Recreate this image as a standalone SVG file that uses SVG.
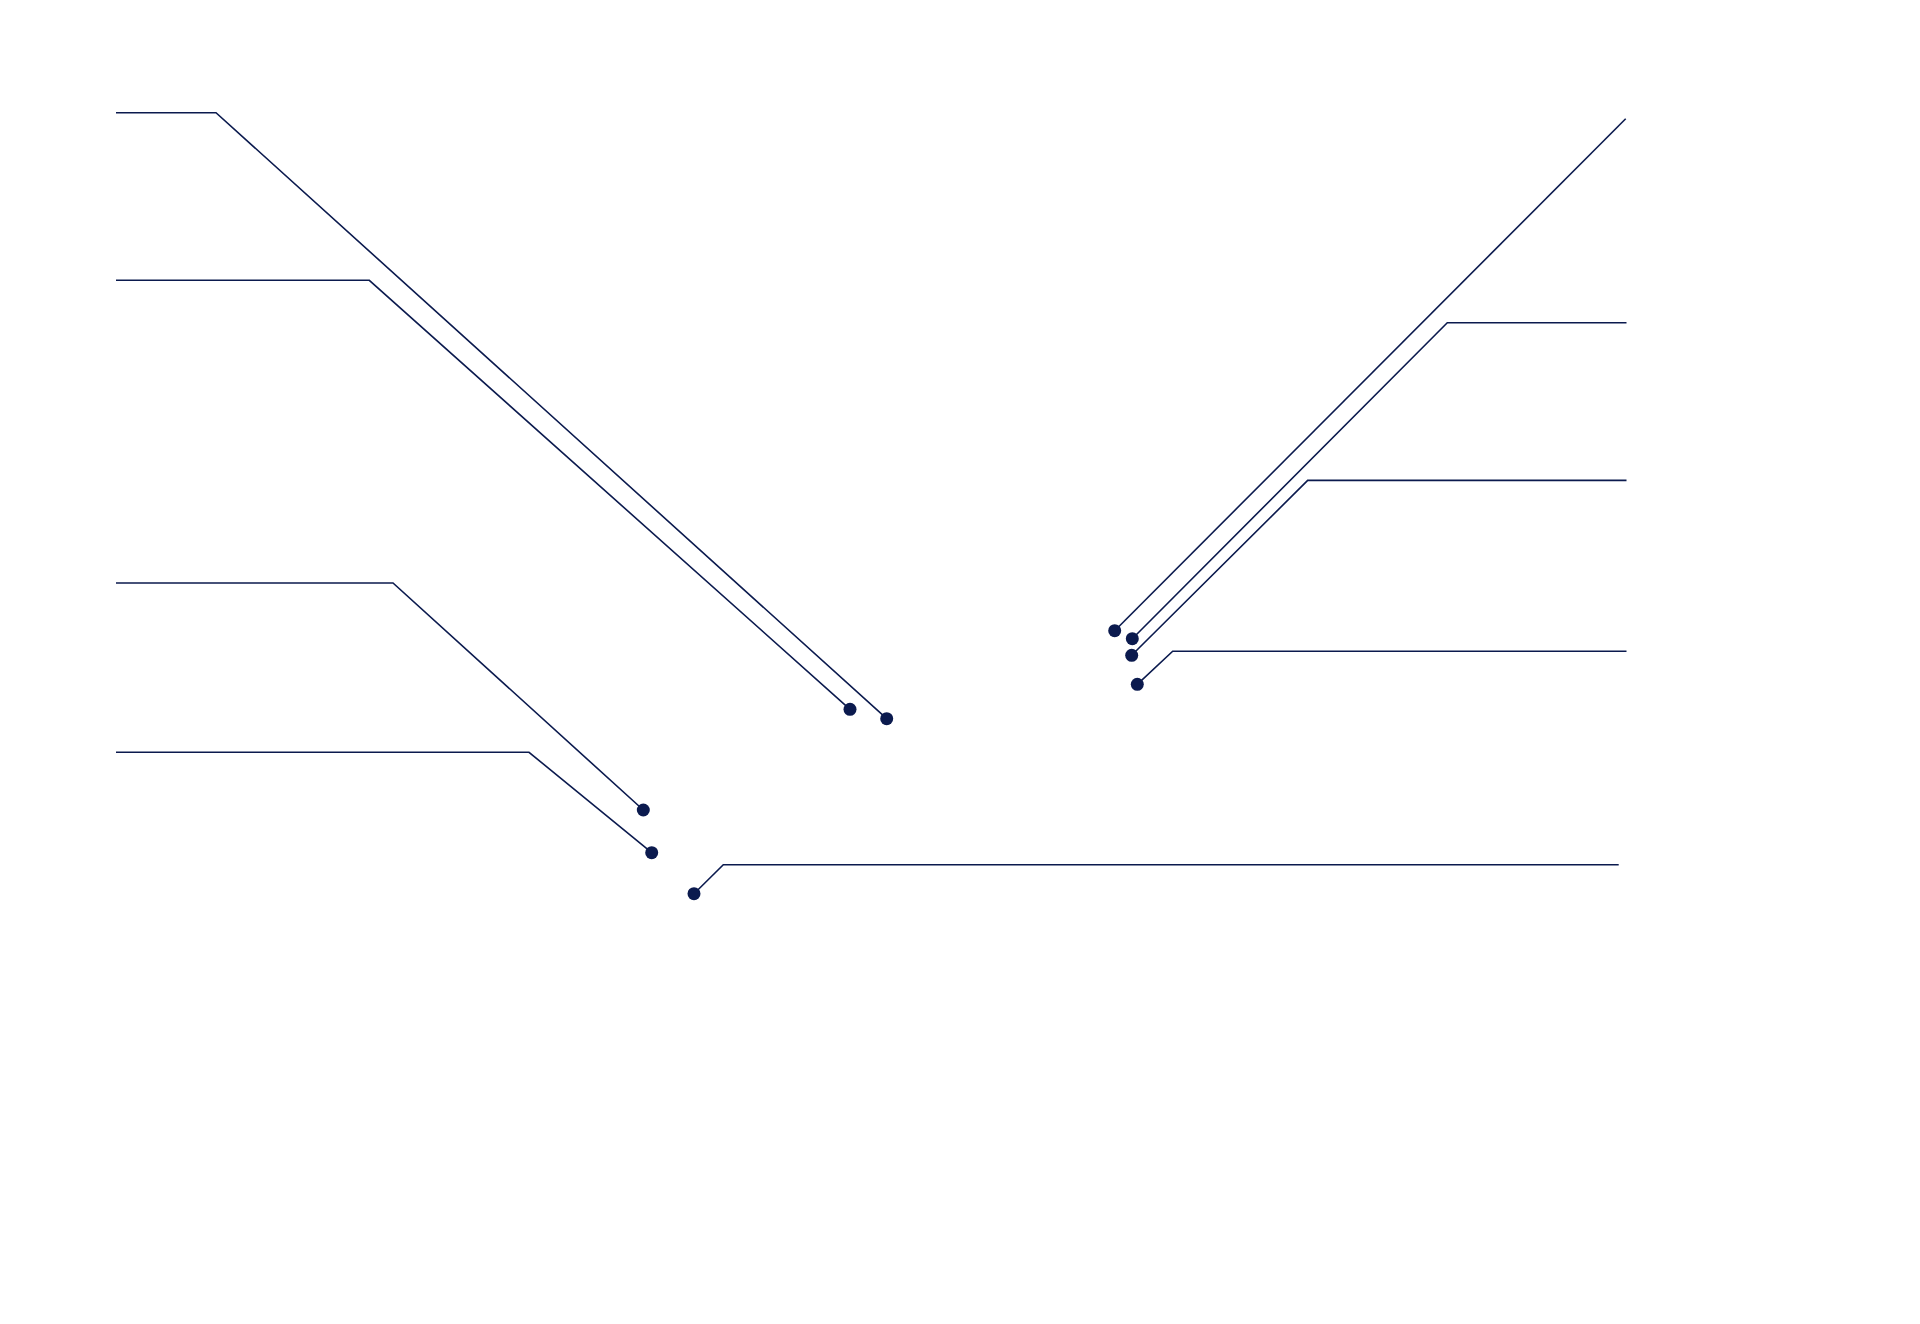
<svg xmlns="http://www.w3.org/2000/svg" width="1920" height="1324" viewBox="0 0 1920 1324">
<style>
.c{fill:none;stroke:#0b1a4e;stroke-width:1.6;stroke-linejoin:miter}
.d{fill:#0b1a4e}
</style>
<rect width="1920" height="1324" fill="#ffffff"/>
<g id="connectors">
<polyline class="c" points="116,112.7 216,112.7 886.7,718.7"/>
<polyline class="c" points="116,280.3 369.3,280.3 850,709.3"/>
<polyline class="c" points="116,583 393,583 643.3,810"/>
<polyline class="c" points="116,752.3 529,752.3 651.7,852.7"/>
<polyline class="c" points="694,893.7 723.3,864.8 1618.7,864.8"/>
<polyline class="c" points="1114.7,630.7 1625.7,118.7"/>
<polyline class="c" points="1132.3,638.7 1447.3,322.8 1626.5,322.8"/>
<polyline class="c" points="1131.7,655.3 1307.7,480.4 1626.5,480.4"/>
<polyline class="c" points="1137.3,684.3 1172.7,651.2 1626.5,651.2"/>
</g>
<g id="dot-l1"><circle class="d" cx="886.7" cy="718.7" r="6.5"/></g>
<g id="dot-l2"><circle class="d" cx="850" cy="709.3" r="6.5"/></g>
<g id="dot-l3"><circle class="d" cx="643.3" cy="810" r="6.5"/></g>
<g id="dot-l4"><circle class="d" cx="651.7" cy="852.7" r="6.5"/></g>
<g id="dot-b1"><circle class="d" cx="694" cy="893.7" r="6.5"/></g>
<g id="dot-r1"><circle class="d" cx="1114.7" cy="630.7" r="6.5"/></g>
<g id="dot-r2"><circle class="d" cx="1132.3" cy="638.7" r="6.5"/></g>
<g id="dot-r3"><circle class="d" cx="1131.7" cy="655.3" r="6.5"/></g>
<g id="dot-r4"><circle class="d" cx="1137.3" cy="684.3" r="6.5"/></g>
</svg>
